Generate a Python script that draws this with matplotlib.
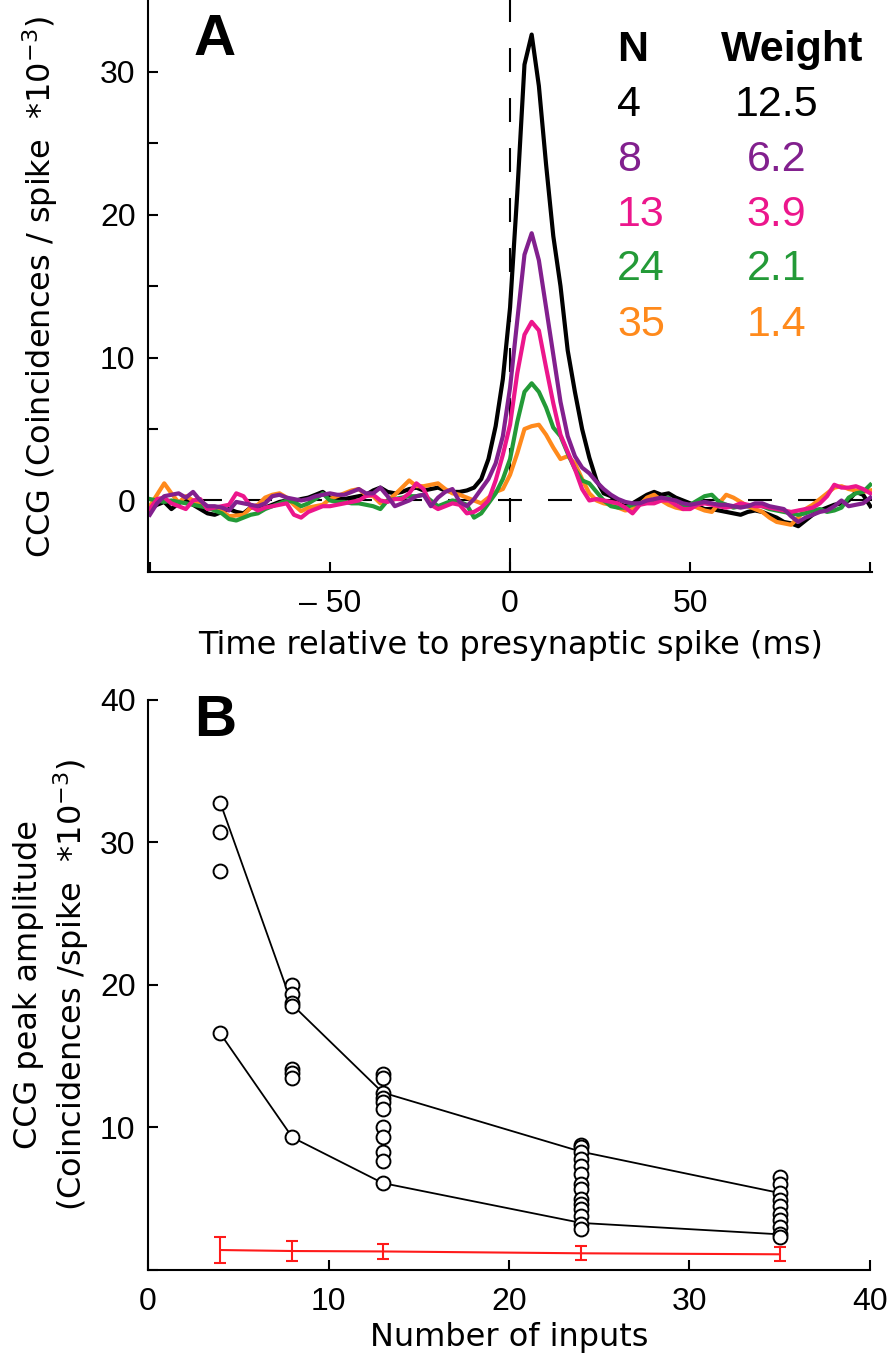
import numpy as np
import matplotlib
matplotlib.use("Agg")
import matplotlib.pyplot as plt

plt.rcParams['font.family'] = ['Liberation Sans', 'DejaVu Sans']

# ---- panel A: cross-correlograms, 2 ms bins from -100 to 100 ms
lag_ms = np.arange(-100, 101, 2)

ccg_n4 = [
    -0.6, -0.3, -0.1, -0.6, -0.2, 0.1, -0.3, -0.6, -0.9, -1.0,
    -0.8, -0.6, -0.8, -0.9, -0.5, -0.4, -0.5, -0.3, -0.1, 0.0,
    -0.05, 0.1, 0.2, 0.4, 0.6,
    0.2, 0.1, 0.1, 0.2, 0.3, 0.4, 0.7, 0.9, 0.6, 0.5,
    0.6, 0.8, 0.9, 0.7, 0.8, 0.9, 0.7, 0.6, 0.6, 0.7,
    0.9, 1.5, 2.9, 5.2, 8.5,
    13.5, 21.5, 30.5, 32.6, 29.0, 23.5, 18.5, 15.0, 10.5, 7.6,
    5.0, 3.0, 1.4, 0.5, 0.3, -0.2, -0.4, -0.2, 0.1, 0.4,
    0.6, 0.4, 0.5, 0.2, 0.0, -0.2, -0.4, -0.6, -0.6, -0.7,
    -0.8, -0.9, -1.0, -0.8, -0.7, -0.8, -1.0, -1.2, -1.5, -1.6,
    -1.8, -1.4, -1.0, -0.7, -0.5, -0.3, -0.2, 0.0, 0.6, 0.4,
    -0.4,
]
ccg_n8 = [
    -1.0, -0.2, 0.3, 0.4, 0.5, 0.2, 0.6, 0.0, -0.4, -0.4,
    -0.5, -0.7, -0.1, -0.2, -0.3, -0.4, -0.2, 0.3, 0.4, 0.2,
    0.1, 0.0, 0.1, 0.3, 0.4,
    0.5, 0.4, 0.4, 0.6, 0.8, 0.5, 0.5, 0.9, 0.3, -0.4,
    -0.2, 0.0, 0.3, 0.4, -0.4, 0.2, 0.6, 0.8, -0.1, -0.4,
    0.1, 0.8, 1.5, 2.6, 4.5,
    7.9, 12.6, 17.2, 18.7, 16.8, 13.5, 10.2, 6.9, 4.5, 3.1,
    2.3, 1.9, 1.3, 0.8, 0.4, 0.1, -0.1, -0.2, -0.2, 0.0,
    0.1, 0.2, 0.1, 0.0, -0.2, -0.3, -0.2, -0.1, -0.2, -0.3,
    -0.3, -0.4, -0.5, -0.4, -0.2, -0.2, -0.4, -0.5, -0.6, -1.1,
    -1.5, -1.2, -1.0, -0.8, -0.7, -0.4, 0.0, -0.4, -0.3, -0.2,
    0.2,
]
ccg_n13 = [
    -0.6, 0.1, 0.2, -0.2, -0.4, -0.6, 0.0, 0.1, -0.6, -0.5,
    -0.4, -0.3, 0.5, 0.3, -0.4, -0.7, -0.5, -0.4, -0.3, -0.2,
    -1.0, -1.2, -0.8, -0.6, -0.4,
    -0.4, -0.3, -0.2, -0.1, 0.0, 0.3, 0.4, 0.0, -0.1, 0.1,
    0.1, 0.5, 1.2, 0.8, -0.3, -0.6, -0.4, -0.2, -0.3, -0.9,
    -0.8, -0.5, 0.0, 1.4, 3.2,
    5.3, 8.9, 11.6, 12.5, 11.9, 9.3, 6.8, 4.6, 3.4, 2.2,
    0.8, 0.0, 0.1, 0.0, -0.1, -0.2, -0.5, -0.9, -0.3, -0.2,
    -0.2, 0.0, 0.0, -0.3, -0.6, -0.6, -0.3, -0.2, -0.3, -0.4,
    -0.5, -0.4, -0.2, -0.3, -0.4, -0.4, -0.5, -0.6, -0.7, -0.8,
    -0.7, -0.6, -0.5, -0.2, 0.3, 1.1, 0.9, 0.9, 1.0, 0.8,
    0.5,
]
ccg_n24 = [
    0.1, 0.0, -0.1, 0.0, -0.1, -0.2, -0.3, -0.4, -0.5, -0.7,
    -0.9, -1.3, -1.4, -1.2, -1.0, -0.9, -0.6, -0.4, -0.2, 0.0,
    -0.1, -0.4, -0.2, 0.1, 0.5,
    0.0, -0.1, -0.1, -0.2, -0.2, -0.3, -0.4, -0.6, 0.0, 0.1,
    0.2, 0.3, 0.3, 0.4, 0.0, -0.4, -0.2, 0.0, -0.1, -0.3,
    -1.2, -0.9, -0.2, 0.5, 1.5,
    2.9, 5.5, 7.6, 8.2, 7.6, 6.5, 5.1, 4.5, 3.3, 2.2,
    1.4, 1.2, 0.6, 0.0, -0.4, -0.5, -0.5, -0.3, -0.2, -0.1,
    0.0, 0.1, 0.2, -0.3, -0.4, -0.3, 0.0, 0.3, 0.4, -0.1,
    -0.3, -0.5, -0.4, -0.4, -0.3, -0.4, -0.6, -0.7, -0.8, -0.9,
    -1.0, -0.9, -0.7, -0.6, -0.8, -0.7, -0.5, 0.2, 0.5, 0.6,
    1.1,
]
ccg_n35 = [
    -0.4, 0.4, 1.2, 0.5, -0.15, 0.3, 0.0, -0.3, -0.5, -0.6,
    -0.75, -1.1, -1.05, -1.0, -0.5, -0.3, 0.2, 0.4, 0.5, 0.2,
    -0.3, -0.75, -0.5, -0.4, -0.3,
    0.1, 0.3, 0.5, 0.7, 0.8, 0.4, 0.3, -0.2, 0.0, 0.4,
    0.9, 1.4, 1.0, 1.0, 1.1, 1.2, 0.8, 0.5, 0.4, 0.2,
    0.0, -0.2, 0.2, 0.6, 0.8,
    1.8, 3.3, 5.0, 5.2, 5.3, 4.6, 3.7, 2.9, 3.1, 2.6,
    1.5, 0.5, 0.0, -0.2, -0.3, -0.5, -0.7, -0.6, -0.3, 0.2,
    0.4, 0.0, -0.3, -0.5, -0.6, -0.3, -0.5, -0.7, -0.8, -0.2,
    0.4, 0.2, -0.1, -0.4, -0.6, -0.8, -1.2, -1.5, -1.6, -1.7,
    -1.2, -0.6, -0.3, 0.1, 0.5, 0.9, 1.0, 0.8, 0.7, 0.6,
    0.7,
]

n_inputs = ['4', '8', '13', '24', '35']
weights = ['12.5', '6.2', '3.9', '2.1', '1.4']
curve_colors = ['black', '#82208e', '#ec168c', '#239a37', '#ff8a1c']

# ---- panel B: peak amplitudes vs number of inputs
inputs = [4, 8, 13, 24, 35]
peaks_4 = [32.8, 30.7, 28.0, 16.6]
peaks_8 = [20.0, 19.4, 18.7, 18.5, 14.1, 13.8, 13.5, 9.3]
peaks_13 = [13.75, 13.45, 12.45, 12.1, 11.8, 11.3, 10.0, 9.3, 8.3, 7.65, 6.1]
peaks_24 = [8.8, 8.6, 8.3, 7.8, 7.3, 6.7, 6.0, 5.7, 5.0, 4.6, 4.3, 3.8, 3.2, 2.9]
peaks_35 = [6.5, 6.0, 5.4, 4.9, 4.5, 3.9, 3.5, 3.0, 2.5, 2.3]
upper_line = [32.8, 18.6, 12.45, 8.3, 5.4]
lower_line = [16.6, 9.3, 6.1, 3.3, 2.5]
noise_mean = [1.4, 1.33, 1.3, 1.17, 1.1]
noise_err = [0.9, 0.7, 0.5, 0.5, 0.48]

FS = 23
LABEL_FONT = ['DejaVu Sans']   # wider face, closer to the stretched labels

fig = plt.figure(figsize=(8.89, 13.66), dpi=100)
axA = fig.add_axes([0.1665, 0.5813, 0.8145, 0.4185])
axB = fig.add_axes([0.1665, 0.0703, 0.8121, 0.4173])

for ax in (axA, axB):
    ax.spines['top'].set_visible(False)
    ax.spines['right'].set_visible(False)
    for s in ('left', 'bottom'):
        ax.spines[s].set_linewidth(1.5)
    ax.tick_params(direction='in', length=7, width=1.5, labelsize=FS)
    ax.tick_params(axis='x', pad=12)
    ax.tick_params(axis='y', pad=9)

# panel A
axA.axvline(0, color='black', lw=1.5, dashes=(11.5, 12.5), zorder=1)
axA.axhline(0, color='black', lw=1.5, dashes=(11.5, 12.5), zorder=1)
curves = [ccg_n4, ccg_n35, ccg_n24, ccg_n13, ccg_n8]
order_colors = [curve_colors[0], curve_colors[4], curve_colors[3], curve_colors[2], curve_colors[1]]
for vals, c in zip(curves, order_colors):
    axA.plot(lag_ms, vals, color=c, lw=3, zorder=2)

axA.set_xlim(-100.5, 100.5)
axA.set_ylim(-5, 35)
axA.set_xticks([-100, -50, 0, 50, 100])
axA.set_xticklabels(['', '\u2013 50', '0', '50', ''])
axA.set_yticks([0, 5, 10, 15, 20, 25, 30])
axA.set_yticklabels(['0', '', '10', '', '20', '', '30'])
axA.set_xlabel('Time relative to presynaptic spike (ms)', fontsize=FS,
               family=LABEL_FONT, labelpad=8)

axA.text(-82, 32.2, 'A', fontsize=42, fontweight='bold', ha='center', va='center')
axA.text(29.7, 31.5, 'N', fontsize=31, fontweight='bold', ha='left', va='center')
axA.text(78.3, 31.5, 'Weight', fontsize=31, fontweight='bold', ha='center', va='center')
row_y = [27.7, 23.8, 20.0, 16.2, 12.3]
for n, w, c, y in zip(n_inputs, weights, curve_colors, row_y):
    axA.text(29.7, y, n, fontsize=31, color=c, ha='left', va='center')
    axA.text(73.9, y, w, fontsize=31, color=c, ha='center', va='center')

fig.text(0.045, 0.79, 'CCG (Coincidences / spike  *10$^{-3}$)', rotation=90,
         fontsize=FS, family=LABEL_FONT, ha='center', va='center')

# panel B
axB.plot(inputs, upper_line, color='black', lw=1.3, zorder=2)
axB.plot(inputs, lower_line, color='black', lw=1.3, zorder=2)
for x, vals in zip(inputs, [peaks_4, peaks_8, peaks_13, peaks_24, peaks_35]):
    axB.plot([x] * len(vals), vals, 'o', mfc='white', mec='black', ms=10, mew=1.4,
             ls='none', zorder=3)
axB.errorbar(inputs, noise_mean, yerr=noise_err, color='#ff1a1a', lw=1.5,
             capsize=4.5, capthick=1.5, zorder=2)

axB.set_xlim(0, 40)
axB.set_ylim(0, 40)
axB.set_xticks([0, 10, 20, 30, 40])
axB.set_yticks([0, 10, 20, 30, 40])
axB.set_yticklabels(['', '10', '20', '30', '40'])
axB.set_xlabel('Number of inputs', fontsize=FS, family=LABEL_FONT, labelpad=4)
axB.text(3.7, 38.5, 'B', fontsize=42, fontweight='bold', ha='center', va='center')

fig.text(0.032, 0.279, 'CCG peak amplitude', rotation=90, fontsize=FS,
         family=LABEL_FONT, ha='center', va='center')
fig.text(0.08, 0.279, '(Coincidences /spike  *10$^{-3}$)', rotation=90, fontsize=FS,
         family=LABEL_FONT, ha='center', va='center')

fig.savefig('out.png', dpi=100)
